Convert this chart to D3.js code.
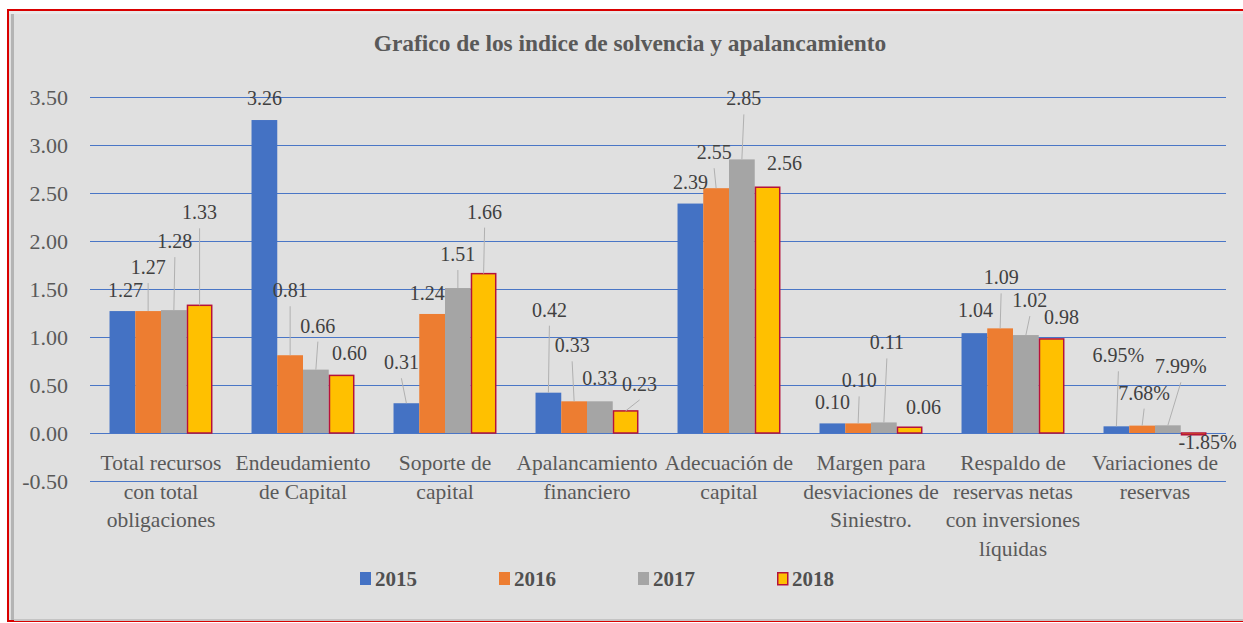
<!DOCTYPE html>
<html>
<head>
<meta charset="utf-8">
<script src="https://cdn.jsdelivr.net/npm/d3@7"></script>
<style>
  body { margin: 0; background: #ffffff; }
  svg { display: block; }
  svg text { font-family: "Liberation Serif", "Times New Roman", Times, serif; }
</style>
</head>
<body>
<script>
// Datos del grafico
var categorias = [
  ["Total recursos", "con total", "obligaciones"],
  ["Endeudamiento", "de Capital"],
  ["Soporte de", "capital"],
  ["Apalancamiento", "financiero"],
  ["Adecuación de", "capital"],
  ["Margen para", "desviaciones de", "Siniestro."],
  ["Respaldo de", "reservas netas", "con inversiones", "líquidas"],
  ["Variaciones de", "reservas"]
];
var anios = ["2015", "2016", "2017", "2018"];
var v2015 = [1.27, 3.26, 0.31, 0.42, 2.39, 0.10, 1.04, 0.0695];
var v2016 = [1.27, 0.81, 1.24, 0.33, 2.55, 0.10, 1.09, 0.0768];
var v2017 = [1.28, 0.66, 1.51, 0.33, 2.85, 0.11, 1.02, 0.0799];
var v2018 = [1.33, 0.60, 1.66, 0.23, 2.56, 0.06, 0.98, -0.0185];
var esPorcentaje = [false, false, false, false, false, false, false, true];
var ticksY = [-0.5, 0, 0.5, 1, 1.5, 2, 2.5, 3, 3.5];
var series = [v2015, v2016, v2017, v2018];

// Desplazamiento de las etiquetas (como las movieron a mano en el original) [dx, dy]
var desplazEtiquetas = [
  [[3, -21], [0, -44], [1, -69], [0, -93]],
  [[0, -22], [0, -65], [2, -44], [8, -22]],
  [[-5, -41], [-5, -21], [0, -34], [1, -62]],
  [[1, -83], [-2, -56], [0, -23], [14, -27]],
  [[0, -22], [-2, -36], [2, -61], [17, -24]],
  [[0, -21], [1, -43], [3, -80], [14, -20]],
  [[1, -23], [1, -51], [4, -35], [10, -22]],
  [[2, -71], [2, -33], [13, -59], [14, 7]]
];

var colores = ["#4472C4", "#ED7D31", "#A5A5A5", "#FFC000"];

var W = 1243, H = 623;
var left = 90, right = 1226, top0 = 97, bottom0 = 481;

var svg = d3.select("body").append("svg")
  .attr("width", W)
  .attr("height", H);

// Marco
svg.append("rect")
  .attr("x", 8).attr("y", 10)
  .attr("width", W + 10).attr("height", 611)
  .attr("fill", "#e0e0e0")
  .attr("stroke", "#d90000")
  .attr("stroke-width", 2);
svg.append("rect")
  .attr("x", 9).attr("y", 11).attr("width", W).attr("height", 3)
  .attr("fill", "#e9e9e9");
svg.append("rect")
  .attr("x", 11).attr("y", 14).attr("width", 3).attr("height", 606)
  .attr("fill", "#b4b4b4");
svg.append("rect")
  .attr("x", 14).attr("y", 619).attr("width", W).attr("height", 2)
  .attr("fill", "#c4c4c4");

// Titulo
svg.append("text")
  .attr("x", 630).attr("y", 51)
  .attr("text-anchor", "middle")
  .style("font-weight", "bold")
  .style("font-size", "23.4px")
  .attr("fill", "#595959")
  .text("Grafico de los indice de solvencia y apalancamiento");

// Escalas
var x0 = d3.scaleBand()
  .domain(d3.range(categorias.length))
  .range([left, right])
  .paddingInner(0.275)
  .paddingOuter(0.1375);
var x1 = d3.scaleBand()
  .domain(anios)
  .range([0, x0.bandwidth()]);
var y = d3.scaleLinear()
  .domain([-0.5, 3.5])
  .range([bottom0, top0]);

// Lineas guia
svg.append("g")
  .selectAll("line")
  .data(ticksY)
  .enter().append("line")
  .attr("x1", left).attr("x2", right)
  .attr("y1", function(d) { return Math.round(y(d)) + 0.5; })
  .attr("y2", function(d) { return Math.round(y(d)) + 0.5; })
  .attr("stroke", "#4a76c6")
  .attr("stroke-width", 1);

// Eje Y
var yAxis = d3.axisLeft(y)
  .tickValues(ticksY)
  .tickSize(0)
  .tickPadding(0)
  .tickFormat(d3.format(".2f"));
var gy = svg.append("g")
  .attr("transform", "translate(68,0)")
  .call(yAxis);
gy.select(".domain").remove();
gy.attr("font-family", null);
gy.selectAll("text")
  .style("font-size", "22px")
  .attr("fill", "#595959")
  .text(function(d) { return d3.format(".2f")(d).replace("\u2212", "-"); });

// Etiquetas de las categorias
var cat = svg.append("g").selectAll("text")
  .data(categorias)
  .enter().append("text")
  .attr("text-anchor", "middle")
  .style("font-size", "21.5px")
  .attr("fill", "#595959");
cat.each(function(lineas, i) {
  var t = d3.select(this);
  lineas.forEach(function(l, k) {
    t.append("tspan")
      .attr("x", x0(i) + x0.bandwidth() / 2)
      .attr("y", 470 + k * 28.5)
      .text(l);
  });
});

// Barras
var grupos = svg.append("g").selectAll("g")
  .data(categorias)
  .enter().append("g")
  .attr("transform", function(d, i) { return "translate(" + x0(i) + ",0)"; });

grupos.selectAll("rect")
  .data(function(d, i) { return series.map(function(s, j) { return {cat: i, anio: anios[j], j: j, v: s[i]}; }); })
  .enter().append("rect")
  .attr("x", function(d) { return x1(d.anio) + (d.j == 3 ? 0.75 : 0); })
  .attr("width", function(d) { return x1.bandwidth() - (d.j == 3 ? 1.5 : 0); })
  .attr("y", function(d) { return y(Math.max(d.v, 0)); })
  .attr("height", function(d) { return Math.abs(y(d.v) - y(0)); })
  .attr("fill", function(d) { return colores[d.j]; })
  .attr("stroke", function(d) { return d.j == 3 ? "#b5123a" : "none"; })
  .attr("stroke-width", 1.5);

// Etiquetas de datos con lineas guia
var etiquetas = [];
categorias.forEach(function(c, i) {
  series.forEach(function(s, j) {
    var bx = x0(i) + x1(anios[j]) + x1.bandwidth() / 2;
    var by = y(s[i]);
    var off = desplazEtiquetas[i][j];
    etiquetas.push({
      bx: bx, by: by,
      lx: bx + off[0], ly: by + off[1],
      texto: esPorcentaje[i] ? d3.format(".2%")(s[i]) : d3.format(".2f")(s[i])
    });
  });
});

svg.append("g").selectAll("line")
  .data(etiquetas.filter(function(d) { return d.ly - d.by < -26; }))
  .enter().append("line")
  .attr("x1", function(d) { return d.lx; })
  .attr("y1", function(d) { return d.ly + 16; })
  .attr("x2", function(d) { return d.bx; })
  .attr("y2", function(d) { return d.by; })
  .attr("stroke", "#b0b0b0")
  .attr("stroke-width", 1);

svg.append("g").selectAll("text")
  .data(etiquetas)
  .enter().append("text")
  .attr("x", function(d) { return d.lx; })
  .attr("y", function(d) { return d.ly + 7; })
  .attr("text-anchor", "middle")
  .style("font-size", "20px")
  .attr("fill", "#404040")
  .text(function(d) { return d.texto.replace("\u2212", "-"); });

// Leyenda
var leyenda = svg.append("g").selectAll("g")
  .data(anios)
  .enter().append("g")
  .attr("transform", function(d, i) { return "translate(" + (360 + i * 139) + ",572)"; });
leyenda.append("rect")
  .attr("x", function(d, i) { return i == 3 ? 0.75 : 0; })
  .attr("y", function(d, i) { return i == 3 ? 0.75 : 0; })
  .attr("width", function(d, i) { return i == 3 ? 10 : 11; })
  .attr("height", function(d, i) { return i == 3 ? 12 : 13; })
  .attr("fill", function(d, i) { return colores[i]; })
  .attr("stroke", function(d, i) { return i == 3 ? "#b5123a" : "none"; })
  .attr("stroke-width", 1.5);
leyenda.append("text")
  .attr("x", 15)
  .attr("y", 14)
  .style("font-weight", "bold")
  .style("font-size", "21px")
  .attr("fill", "#505050")
  .text(function(d) { return d; });
</script>
</body>
</html>
